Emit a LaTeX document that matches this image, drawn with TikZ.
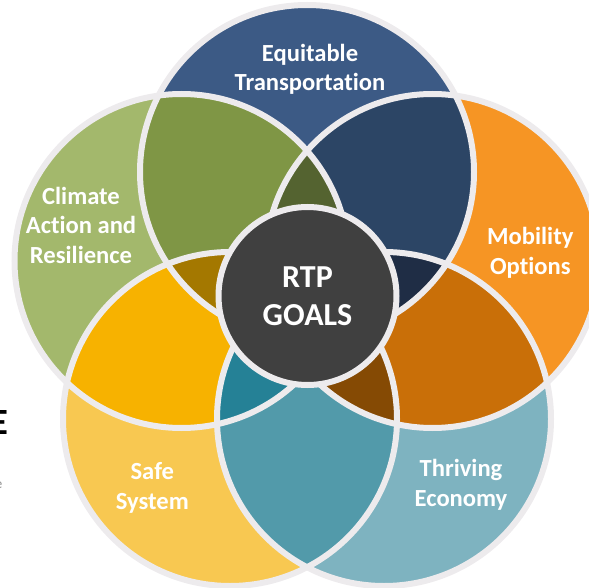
\documentclass[tikz,border=0pt]{standalone}
\usepackage{fontspec}
\setmainfont{Carlito}[Ligatures=NoCommon]
\usepackage{tikz}
\definecolor{ringgray}{HTML}{EDEBED}
\definecolor{hubgray}{HTML}{404040}
\definecolor{eqblue}{HTML}{3C5A85}
\definecolor{climgreen}{HTML}{A3B86C}
\definecolor{mobiorange}{HTML}{F69524}
\definecolor{safeyellow}{HTML}{F8C851}
\definecolor{thrivteal}{HTML}{7EB3C0}
\definecolor{olivemix}{HTML}{7F9645}
\definecolor{navymix}{HTML}{2C4565}
\definecolor{ambermix}{HTML}{F7B200}
\definecolor{rustmix}{HTML}{C96F08}
\definecolor{tealmix}{HTML}{529AAA}
\definecolor{olivedark}{HTML}{546330}
\definecolor{golddark}{HTML}{A47800}
\definecolor{navydark}{HTML}{1F2D45}
\definecolor{tealdark}{HTML}{258196}
\definecolor{rustdark}{HTML}{854A04}
\newcommand{\goalr}{167pt}

\begin{document}
\begin{tikzpicture}[x=1pt, y=-1pt,
  ring/.style={draw=ringgray, line width=6pt},
  goal/.style={text=white, align=center, inner sep=0pt,
    font=\bfseries\fontsize{24.6}{29.5}\selectfont}]
\useasboundingbox (0,0) rectangle (589,588);
\clip (0,0) rectangle (589,588);

\coordinate (ct) at (307,172);
\coordinate (cl) at (181.5,261);
\coordinate (cr) at (432.5,261);
\coordinate (cbl) at (230,419);
\coordinate (cbr) at (384,419);

% cut-off text of the slide
\node[anchor=base east, inner sep=0pt, font=\bfseries\fontsize{37}{37}\selectfont] (frag) at (8,434) {E};
\node[anchor=base east, inner sep=0pt, text=black!45, font=\fontsize{14}{14}\selectfont] (fragb) at (2.5,488) {e};

% the five goals
\fill[eqblue] (ct) circle[radius=\goalr];
\fill[climgreen] (cl) circle[radius=\goalr];
\fill[mobiorange] (cr) circle[radius=\goalr];
\fill[safeyellow] (cbl) circle[radius=\goalr];
\fill[thrivteal] (cbr) circle[radius=\goalr];

% overlaps of two
\begin{scope}
\clip (ct) circle[radius=\goalr];
\fill[olivemix] (cl) circle[radius=\goalr];
\fill[navymix] (cr) circle[radius=\goalr];
\end{scope}
\begin{scope}
\clip (cl) circle[radius=\goalr];
\fill[ambermix] (cbl) circle[radius=\goalr];
\end{scope}
\begin{scope}
\clip (cr) circle[radius=\goalr];
\fill[rustmix] (cbr) circle[radius=\goalr];
\end{scope}
\begin{scope}
\clip (cbl) circle[radius=\goalr];
\fill[tealmix] (cbr) circle[radius=\goalr];
\end{scope}

% overlaps of three
\begin{scope}
\clip (ct) circle[radius=\goalr];
\clip (cl) circle[radius=\goalr];
\fill[olivedark] (cr) circle[radius=\goalr];
\fill[golddark] (cbl) circle[radius=\goalr];
\end{scope}
\begin{scope}
\clip (ct) circle[radius=\goalr];
\clip (cr) circle[radius=\goalr];
\fill[navydark] (cbr) circle[radius=\goalr];
\end{scope}
\begin{scope}
\clip (cbl) circle[radius=\goalr];
\clip (cbr) circle[radius=\goalr];
\fill[tealdark] (cl) circle[radius=\goalr];
\fill[rustdark] (cr) circle[radius=\goalr];
\end{scope}

\foreach \c in {ct,cl,cr,cbl,cbr}
  \draw[ring] (\c) circle[radius=\goalr];

\node[circle, draw=ringgray, line width=6pt, fill=hubgray, minimum size=178pt,
  text=white, align=center, inner sep=0pt,
  font=\bfseries\fontsize{32}{38.4}\selectfont] (hub) at (307.5,296) {RTP\\GOALS};

% base = last line
\node[goal, anchor=base] (equit) at (310,91) {Equitable\\Transportation};
\node[goal, anchor=base] (climate) at (81,263.3) {Climate\\Action and\\Resilience};
\node[goal, anchor=base] (mobil) at (530.3,274.3) {Mobility\\Options};
\node[goal, anchor=base] (safe) at (152.3,509) {Safe\\System};
\node[goal, anchor=base] (thriv) at (461,506) {Thriving\\Economy};

\end{tikzpicture}
\end{document}
